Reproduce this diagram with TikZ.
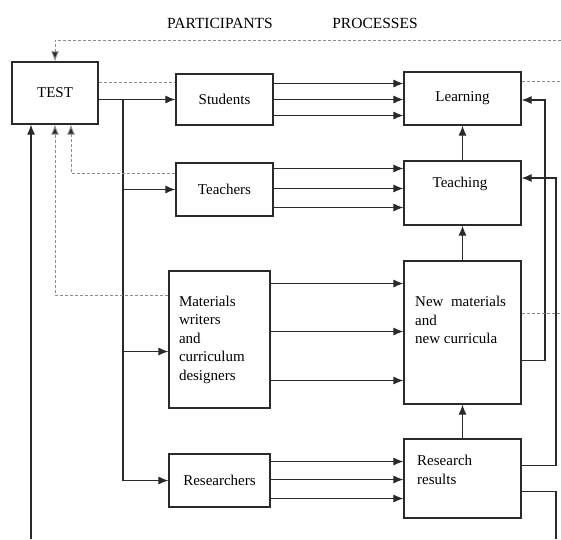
\documentclass[tikz,border=0pt]{standalone}
\usepackage{fontspec}
\setmainfont{Liberation Serif}
\usepackage{tikz}
\usetikzlibrary{arrows.meta}
\tikzset{>={Latex[length=10pt,width=8pt]}}
\definecolor{boxgray}{HTML}{2a2a2a}
\definecolor{dashgray}{HTML}{8c8c8c}

\begin{document}
\begin{tikzpicture}[x=1pt,y=-1pt,
	box/.style={draw=boxgray,line width=1.2pt,font=\fontsize{15}{18.5}\selectfont},
	txt/.style={font=\fontsize{15}{18.5}\selectfont,align=left,inner sep=0pt},
	head/.style={font=\fontsize{15.5}{18}\selectfont},
	link/.style={draw=boxgray,line width=1.1pt,->},
	fb/.style={draw=dashgray,line width=0.9pt,dash pattern=on 3pt off 2pt},
	fbtip/.style={-{Latex[length=10pt,width=8pt,fill=boxgray]}}]
	\useasboundingbox (0,0) rectangle (561,539);

	\node[head] (participants) at (220,23) {PARTICIPANTS};
	\node[head] (processes) at (375,23) {PROCESSES};

	\node[box,minimum width=86pt,minimum height=62pt] (test) at (55,93) {TEST};
	\node[box,minimum width=97pt,minimum height=51pt] (students) at (224.5,99.5) {Students};
	\node[box,minimum width=97pt,minimum height=53pt] (teachers) at (224.5,189.5) {Teachers};
	\node[box,minimum width=101pt,minimum height=137pt,text width=81pt,align=left] (materials) at (219.5,339.5) {Materials\\writers\\and\\curriculum\\designers};
	\node[box,minimum width=101pt,minimum height=53pt] (researchers) at (219.5,480.5) {Researchers};

	\node[box,minimum width=117pt,minimum height=53pt] (learning) at (462.5,98.5) {Learning};
	\node[box,minimum width=117pt,minimum height=64pt] (teaching) at (462.5,193) {};
	\node[txt] (teachingtxt) at (460,184) {Teaching};
	\node[box,minimum width=117pt,minimum height=143pt] (newmat) at (462.5,332.5) {};
	\node[txt,anchor=west] (newmattxt) at (415,320) {New \ materials\\and\\new curricula};
	\node[box,minimum width=117pt,minimum height=79pt] (results) at (462.5,478.5) {};
	\node[txt,anchor=west] (resultstxt) at (417,470) {Research\\results};

	\coordinate (trunk) at (123,99.5);
	\coordinate (outL) at (31,539);
	\coordinate (outR) at (556,539);
	\coordinate (fbA) at (545,0);
	\coordinate (fbB) at (556,0);
	\coordinate (topR) at (561,40);
	\coordinate (edge) at (561,0);

	\draw[link] (test.east |- students.west) -- (students.west);
	\draw[link] (trunk) |- (teachers.west);
	\draw[link] (trunk) |- ([yshift=-12pt]materials.west);
	\draw[link] (trunk) |- (researchers.west);
	\draw[link] (outL) -- (test.south -| outL);

	\foreach \d in {16,0,-16}
		\draw[link] ([yshift=\d pt]students.east) -- ([yshift=\d pt]students.east -| learning.west);
	\foreach \d in {21,1,-18}
		\draw[link] ([yshift=\d pt]teachers.east) -- ([yshift=\d pt]teachers.east -| teaching.west);
	\foreach \d in {56,8,-41}
		\draw[link] ([yshift=\d pt]materials.east) -- ([yshift=\d pt]materials.east -| newmat.west);
	\foreach \d in {19,1,-18}
		\draw[link] ([yshift=\d pt]researchers.east) -- ([yshift=\d pt]researchers.east -| results.west);

	\draw[link] (teaching.north) -- (learning.south);
	\draw[link] (newmat.north) -- (teaching.south);
	\draw[link] (results.north) -- (newmat.south);

	\draw[link] ([yshift=-28pt]newmat.east) -| ([yshift=-1.5pt]fbA |- learning.east) -- ([yshift=-1.5pt]learning.east);
	\draw[link] ([yshift=13pt]results.east) -| ([yshift=15pt]fbB |- teaching.east) -- ([yshift=15pt]teaching.east);
	\draw[draw=boxgray,line width=1.1pt] ([yshift=-13pt]results.east) -| (outR);

	\draw[fb,fbtip] (topR) -| (test.north);
	\draw[fb] ([yshift=11pt]test.east) -- ([yshift=11pt]test.east -| students.west);
	\draw[fb,fbtip] ([yshift=16.5pt]teachers.west) -| ([xshift=16pt]test.south);
	\draw[fb,fbtip] ([yshift=44.5pt]materials.west) -| (test.south);
	\draw[fb] ([yshift=17pt]learning.east) -- ([yshift=17pt]learning.east -| edge);
	\draw[fb] ([yshift=19.5pt]newmat.east) -- ([yshift=19.5pt]newmat.east -| edge);
\end{tikzpicture}
\end{document}
